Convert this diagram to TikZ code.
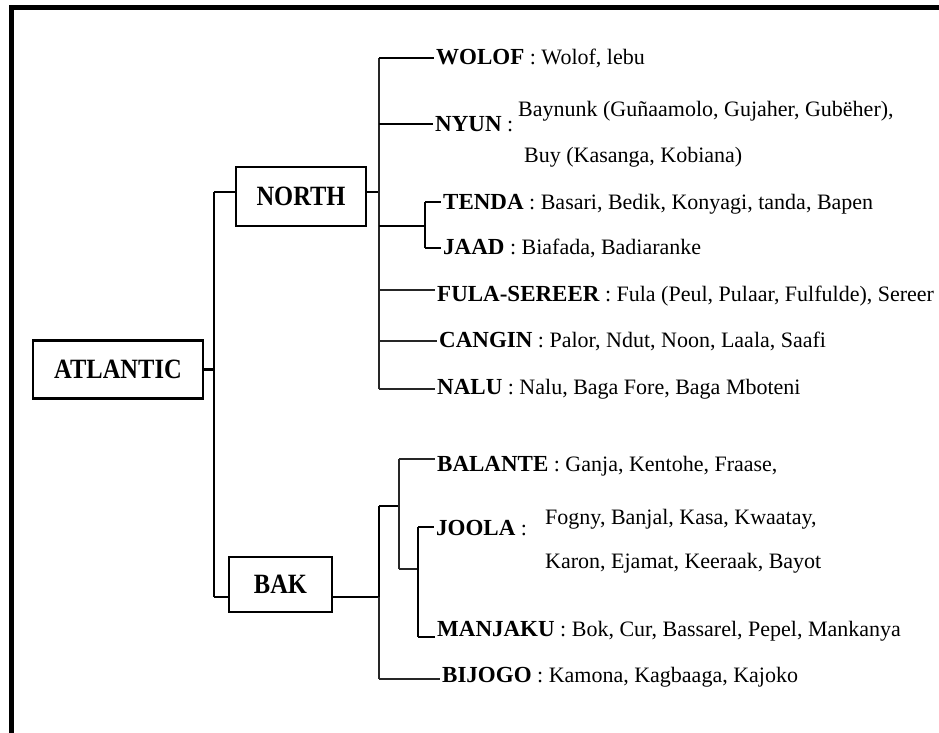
\documentclass[tikz,border=0pt]{standalone}
\usepackage{fontspec}
\setmainfont{Liberation Serif}
\newcommand{\lbl}[1]{{\fontsize{23}{26}\selectfont\bfseries #1}}
\newcommand{\boxtxt}[1]{\scalebox{1}[1.14]{#1}}
\tikzset{
  thk/.style={line width=2.3pt},
  thn/.style={line width=1.4pt, black!85},
  boxnode/.style={draw, line width=2.7pt, inner sep=0pt, font=\fontsize{24.5}{28}\selectfont\bfseries},
  leaf/.style={anchor=west, inner xsep=2pt, inner ysep=0pt, text height=16pt, text depth=1.4pt, font=\fontsize{22}{26}\selectfont},
  sub/.style={anchor=west, inner sep=0pt, text height=16pt, text depth=1.4pt, font=\fontsize{22}{26}\selectfont},
}
\begin{document}
\begin{tikzpicture}[x=1pt,y=-1pt]
\useasboundingbox (0,0) rectangle (939,733);
% frame (only top and left visible)
\draw[line width=5pt, line join=miter] (11,733) -- (11,7.7) -- (939,7.7);

% boxes
\node[boxnode, minimum width=170pt, minimum height=58pt] (atl) at (118,369.5) {\boxtxt{ATLANTIC}};
\node[boxnode, minimum width=130pt, minimum height=59pt] (north) at (301,196.5) {\boxtxt{NORTH}};
\node[boxnode, minimum width=103pt, minimum height=55pt] (bak) at (280.5,584.5) {\boxtxt{BAK}};

% junction coordinates
\coordinate (jA) at (214,192);
\coordinate (jB) at (214,597);
\coordinate (nA) at (379,192);
\coordinate (nTop) at (379,58);
\coordinate (nBot) at (379,389);
\coordinate (tj) at (379,226);
\coordinate (tv) at (425,226);
\coordinate (bA) at (379,597);
\coordinate (bTop) at (379,506);
\coordinate (bBot) at (379,679);
\coordinate (bl) at (399,506);
\coordinate (blb) at (399,569);
\coordinate (jm) at (418,569);

% leaves (north)
\node[leaf] (wolof) at (434,57.5) {\lbl{WOLOF} : Wolof, lebu};
\node[leaf] (nyun) at (433,124) {\lbl{NYUN} :};
\node[sub] (nyunA) at (518,109) {Baynunk (Guñaamolo, Gujaher, Gubëher),};
\node[sub] (nyunB) at (524,155) {Buy (Kasanga, Kobiana)};
\node[leaf] (tenda) at (441,202) {\lbl{TENDA} : Basari, Bedik, Konyagi, tanda, Bapen};
\node[leaf] (jaad) at (441,247.5) {\lbl{JAAD} : Biafada, Badiaranke};
\node[leaf] (fula) at (435,294) {\lbl{FULA-SEREER} : Fula (Peul, Pulaar, Fulfulde), Sereer};
\node[leaf] (cangin) at (437,340) {\lbl{CANGIN} : Palor, Ndut, Noon, Laala, Saafi};
\node[leaf] (nalu) at (435,387.5) {\lbl{NALU} : Nalu, Baga Fore, Baga Mboteni};

% leaves (bak)
\node[leaf] (balante) at (435,464) {\lbl{BALANTE} : Ganja, Kentohe, Fraase,};
\node[leaf] (joola) at (434,528) {\lbl{JOOLA} :};
\node[sub] (joolaA) at (545,517) {Fogny, Banjal, Kasa, Kwaatay,};
\node[sub] (joolaB) at (545,561) {Karon, Ejamat, Keeraak, Bayot};
\node[leaf] (manjaku) at (435,629) {\lbl{MANJAKU} : Bok, Cur, Bassarel, Pepel, Mankanya};
\node[leaf] (bijogo) at (440,675) {\lbl{BIJOGO} : Kamona, Kagbaaga, Kajoko};

% ATLANTIC connectors
\draw[thk] (atl.east) -- (atl.east -| jA);
\draw[thk] (jA) -- (jB);
\draw[thk] (jA) -- (jA -| north.west);
\draw[thk] (jB) -- (jB -| bak.west);

% NORTH connectors
\draw[thk] (nA -| north.east) -- (nA);
\draw[thn] (nTop) -- (nBot);
\draw[thk] (nTop) -- (nTop -| wolof.west);
\draw[thk] (379,124) -- (nyun.west |- 0,124);
\draw[thk] (tj) -- (tv);
\draw[thk] (425,202) -- (425,248);
\draw[thk] (425,202) -- (tenda.west |- 0,202);
\draw[thk] (425,248) -- (jaad.west |- 0,248);
\draw[thn] (379,290) -- (fula.west |- 0,290);
\draw[thn] (379,341) -- (cangin.west |- 0,341);
\draw[thn] (nBot) -- (nalu.west |- nBot);

% BAK connectors
\draw[thk] (bA -| bak.east) -- (bA);
\draw[thk] (bTop) -- (bA);
\draw[thn] (bA) -- (bBot);
\draw[thk] (bTop) -- (bl);
\draw[thn] (399,459) -- (blb);
\draw[thn] (399,459) -- (balante.west |- 0,459);
\draw[thn] (blb) -- (jm);
\draw[thk] (418,527) -- (418,637);
\draw[thk] (418,527) -- (joola.west |- 0,527);
\draw[thk] (418,637) -- (manjaku.west |- 0,637);
\draw[thn] (bBot) -- (bijogo.west |- bBot);
\end{tikzpicture}
\end{document}
